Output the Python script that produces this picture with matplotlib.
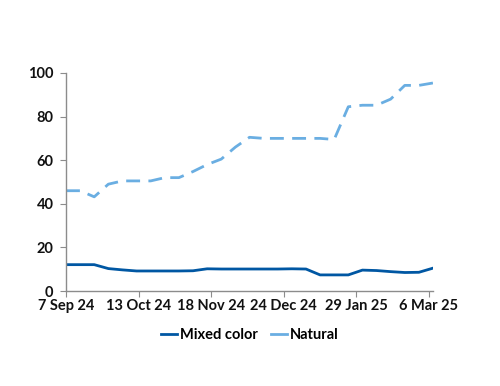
import numpy as np
import pandas as pd
import matplotlib
matplotlib.use("Agg")
import matplotlib.pyplot as plt
from matplotlib.lines import Line2D

# weekly readings, 7 Sep 24 onwards
dates = pd.date_range("2024-09-07", periods=27, freq="7D")
mixed_color = [12.1, 12.1, 12.1, 10.3, 9.7, 9.2, 9.2, 9.2, 9.2, 9.3, 10.2, 10.1, 10.1, 10.1,
               10.1, 10.1, 10.2, 10.1, 7.4, 7.4, 7.4, 9.6, 9.4, 8.9, 8.5, 8.6, 10.5]
natural = [46.0, 46.0, 43.2, 49.0, 50.5, 50.5, 50.5, 52.0, 52.0, 54.8, 58.0, 60.5, 66.0, 70.5,
           70.0, 70.0, 70.0, 70.0, 70.0, 69.5, 84.5, 85.2, 85.2, 88.0, 94.3, 94.3, 95.4]
tick_dates = pd.to_datetime(["2024-09-07", "2024-10-13", "2024-11-18",
                             "2024-12-24", "2025-01-29", "2025-03-06"])
tick_labels = ["7 Sep 24", "13 Oct 24", "18 Nov 24", "24 Dec 24", "29 Jan 25", "6 Mar 25"]

plt.rcParams['font.family'] = ['Lato', 'DejaVu Sans']
plt.rcParams['font.weight'] = 'bold'

dark, light = '#0057a3', '#6aaee2'

fig = plt.figure(figsize=(5, 3.86), dpi=100)
ax = fig.add_axes([0.132, 0.246, 0.734, 0.565])

ax.plot(dates, mixed_color, color=dark, lw=2)
ax.plot(dates, natural, color=light, lw=2, ls=(0, (5, 3)))

ax.set_ylim(0, 100)
ax.set_yticks([0, 20, 40, 60, 80, 100])
ax.set_xlim(pd.Timestamp("2024-09-07"), pd.Timestamp("2025-03-08"))
ax.set_xticks(tick_dates)
ax.set_xticklabels(tick_labels)

for s in ['top', 'right']:
    ax.spines[s].set_visible(False)
for s in ['left', 'bottom']:
    ax.spines[s].set_color('#8c8c8c')
    ax.spines[s].set_linewidth(1)
ax.tick_params(axis='both', colors='#8c8c8c', length=4, labelcolor='#111111', labelsize=10.5)
ax.tick_params(axis='x', pad=2)
ax.tick_params(axis='y', pad=5)

# legend uses short solid keys for both series
handles = [Line2D([], [], color=dark, lw=2), Line2D([], [], color=light, lw=2)]
ax.legend(handles, ['Mixed color', 'Natural'], loc='upper center', bbox_to_anchor=(0.5, -0.11),
          ncol=2, frameon=False, fontsize=10.5, handlelength=1.1, handletextpad=0.2, columnspacing=0.9)

fig.savefig("out.png", dpi=100)
